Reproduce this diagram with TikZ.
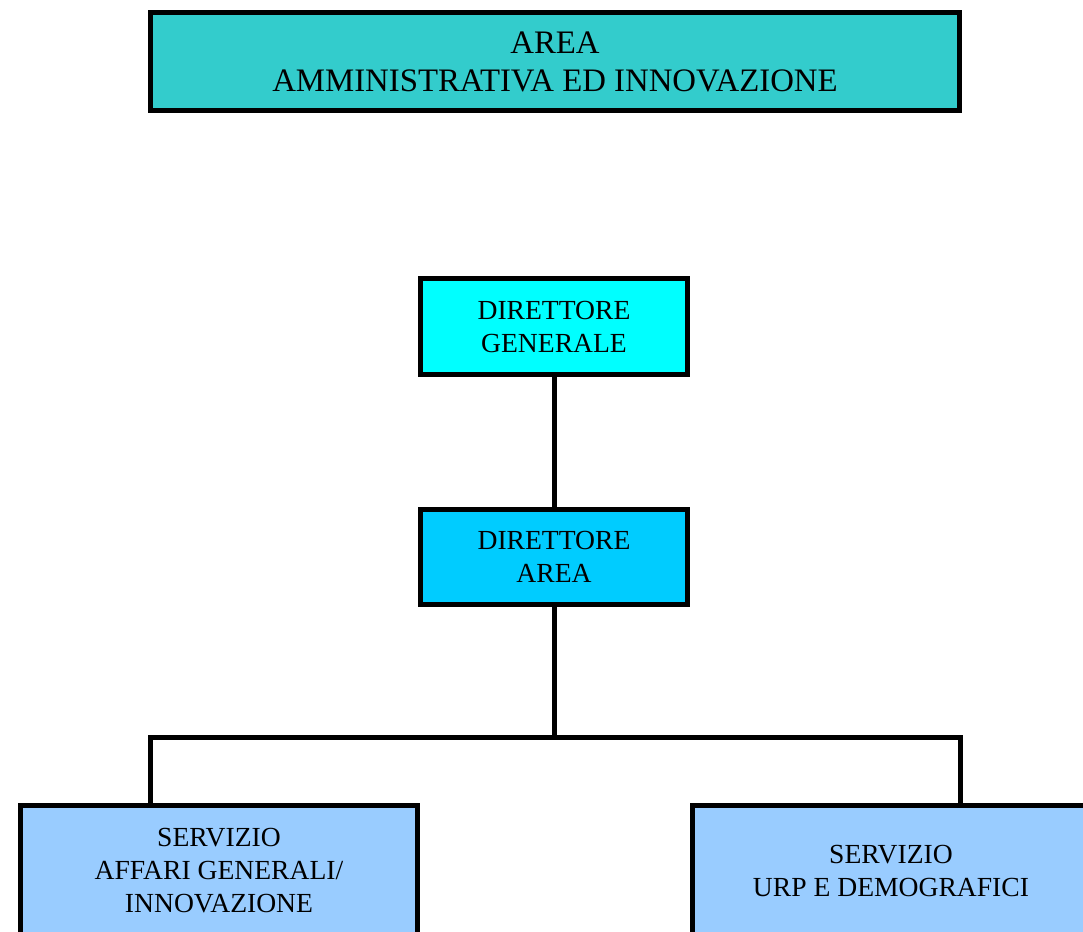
\documentclass[tikz,border=0pt]{standalone}
\usepackage{fontspec}
\setmainfont{Liberation Serif}
\usepackage{tikz}
\usetikzlibrary{positioning,calc}

\definecolor{areabg}{HTML}{33CCCC}
\definecolor{dgbg}{HTML}{00FFFF}
\definecolor{dabg}{HTML}{00CCFF}
\definecolor{servbg}{HTML}{99CCFF}

\begin{document}
\begin{tikzpicture}[x=0.5pt,y=-0.5pt,
    box/.style={draw=black, line width=2.5pt, inner sep=0pt, align=center,
      font=\fontsize{13.8}{16.5}\selectfont},
    link/.style={black, line width=2.5pt}]
  \useasboundingbox (0,0) rectangle (1083,932);
  \clip (0,0) rectangle (1083,932);

  % title
  \node[box, fill=areabg, line width=2.8pt, minimum width=404.5pt, minimum height=49pt,
    font=\fontsize{16.4}{19}\selectfont] (area) at (555,61.5)
    {AREA\\AMMINISTRATIVA ED INNOVAZIONE};

  % direttori
  \node[box, fill=dgbg, minimum width=133.5pt, minimum height=48pt] (dg) at (554,326.5)
    {DIRETTORE\\GENERALE};
  \node[box, fill=dabg, minimum width=133.5pt, minimum height=47.5pt] (da) at (554,557)
    {DIRETTORE\\AREA};

  % servizi (cut off at the bottom)
  \node[box, fill=servbg, minimum width=198.5pt, minimum height=66pt] (affari) at (219,871)
    {SERVIZIO\\AFFARI GENERALI/\\INNOVAZIONE};
  \node[box, fill=servbg, minimum width=198.5pt, minimum height=66pt] (urp) at (891,871)
    {SERVIZIO\\URP E DEMOGRAFICI};

  \coordinate (bus) at (554,737);
  \coordinate (busL) at (150,737);
  \coordinate (busR) at (960,737);

  \draw[link] (dg.south) -- (da.north);
  \draw[link] (da.south) -- (bus);
  \draw[link] (busL |- affari.north) -- (busL) -- (busR) -- (busR |- urp.north);
%  \draw[link] (area.south) -- (dg.north);
\end{tikzpicture}
\end{document}
